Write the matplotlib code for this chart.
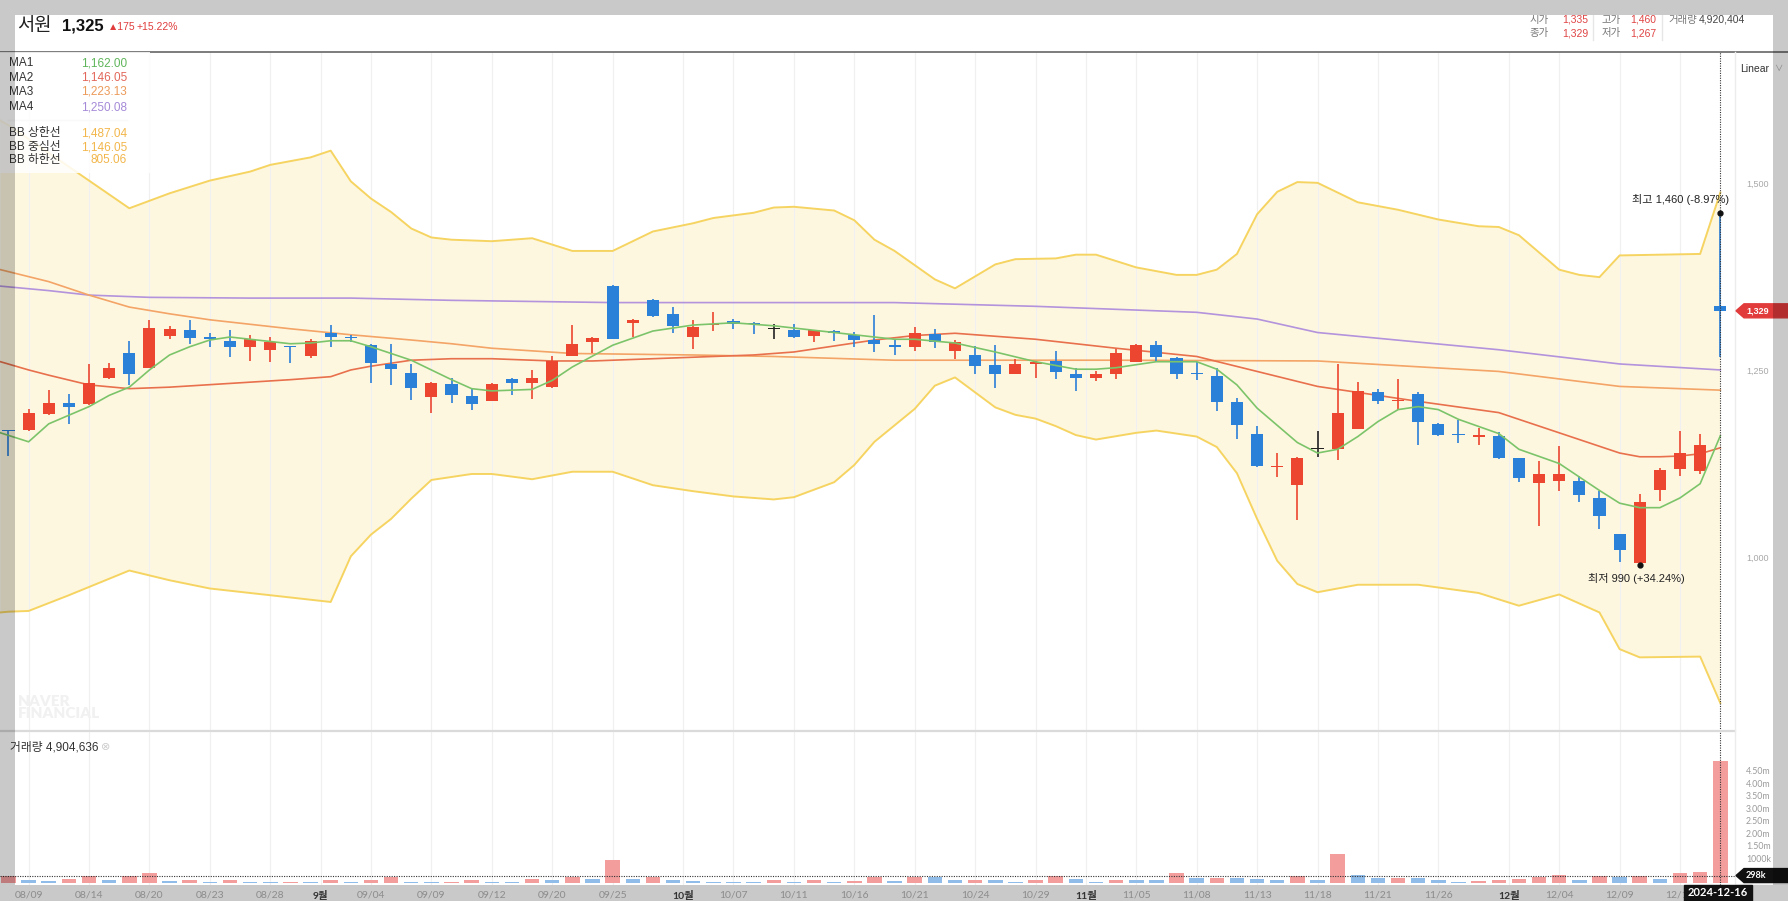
import numpy as np
import matplotlib
matplotlib.use('Agg')
import matplotlib.pyplot as plt
from matplotlib.patches import Rectangle, Polygon
from matplotlib.lines import Line2D

plt.rcParams['font.family'] = ['Liberation Sans', 'Noto Sans CJK KR', 'DejaVu Sans']

# --- daily candles, 2024-08-08 .. 2024-12-16 (trading days) ---
opens = [1170, 1170, 1191, 1206, 1204, 1239, 1273, 1253, 1296, 1303,
         1293, 1289, 1281, 1276, 1282, 1268, 1299, 1294, 1283, 1258,
         1246, 1214, 1231, 1215, 1209, 1238, 1233, 1227, 1269, 1287,
         1362, 1313, 1344, 1325, 1294, 1310, 1315, 1312, 1305, 1304,
         1295, 1302, 1297, 1290, 1283, 1280, 1298, 1275, 1270, 1256,
         1244, 1258, 1262, 1245, 1239, 1245, 1261, 1283, 1266, 1245,
         1242, 1207, 1165, 1120, 1096, 1144, 1144, 1171, 1221, 1208,
         1218, 1178, 1165, 1161, 1162, 1133, 1099, 1101, 1101, 1079,
         1031, 992, 1089, 1117, 1115, 1335]
highs = [1170, 1198, 1223, 1218, 1258, 1259, 1289, 1317, 1309, 1317,
         1299, 1303, 1297, 1294, 1282, 1291, 1310, 1297, 1284, 1285,
         1258, 1234, 1239, 1225, 1233, 1239, 1250, 1268, 1310, 1294,
         1363, 1318, 1345, 1334, 1317, 1328, 1318, 1314, 1311, 1312,
         1303, 1304, 1301, 1323, 1290, 1308, 1305, 1290, 1282, 1283,
         1264, 1262, 1275, 1252, 1248, 1278, 1284, 1289, 1267, 1261,
         1252, 1212, 1175, 1139, 1134, 1168, 1258, 1234, 1224, 1238,
         1220, 1179, 1183, 1173, 1167, 1133, 1129, 1149, 1108, 1088,
         1031, 1084, 1119, 1169, 1165, 1460]
lows = [1135, 1169, 1190, 1178, 1203, 1238, 1230, 1252, 1291, 1284,
        1280, 1267, 1262, 1261, 1259, 1266, 1281, 1288, 1233, 1230,
        1210, 1192, 1206, 1197, 1208, 1216, 1211, 1226, 1268, 1273,
        1291, 1294, 1321, 1300, 1278, 1302, 1305, 1298, 1292, 1293,
        1288, 1289, 1280, 1274, 1270, 1275, 1279, 1265, 1244, 1226,
        1244, 1239, 1238, 1222, 1235, 1238, 1260, 1261, 1238, 1236,
        1195, 1158, 1120, 1107, 1050, 1134, 1130, 1171, 1205, 1197,
        1150, 1162, 1153, 1150, 1131, 1100, 1042, 1088, 1074, 1037,
        994, 990, 1075, 1108, 1111, 1267]
closes = [1168, 1193, 1206, 1200, 1233, 1252, 1244, 1306, 1305, 1293,
          1292, 1281, 1291, 1288, 1280, 1289, 1294, 1293, 1259, 1251,
          1226, 1232, 1216, 1205, 1231, 1233, 1239, 1262, 1284, 1293,
          1292, 1317, 1322, 1309, 1308, 1312, 1312, 1311, 1305, 1294,
          1303, 1299, 1290, 1285, 1281, 1299, 1288, 1288, 1255, 1244,
          1258, 1261, 1247, 1239, 1244, 1272, 1283, 1267, 1244, 1244,
          1207, 1177, 1121, 1121, 1133, 1144, 1193, 1222, 1209, 1210,
          1180, 1163, 1163, 1163, 1133, 1106, 1111, 1111, 1083, 1055,
          1009, 1074, 1116, 1139, 1150, 1329]

# volume in thousands, 1 = red bar, 0 = blue bar
vol_k = [270, 135, 95, 175, 300, 135, 300, 390, 95, 135,
         55, 135, 55, 55, 55, 55, 110, 55, 110, 230,
         55, 55, 55, 110, 55, 27, 175, 110, 230, 170,
         905, 160, 230, 135, 95, 55, 55, 27, 110, 55,
         110, 55, 70, 230, 95, 230, 230, 135, 135, 135,
         55, 110, 285, 175, 55, 110, 110, 110, 405, 200,
         200, 200, 160, 135, 300, 135, 1175, 340, 200, 200,
         200, 135, 27, 70, 110, 175, 230, 340, 135, 300,
         230, 300, 175, 390, 430, 4904]
vol_up = [1, 0, 0, 1, 1, 0, 1, 1, 0, 1,
          0, 1, 0, 0, 1, 0, 1, 0, 1, 1,
          0, 0, 1, 1, 0, 0, 1, 0, 1, 0,
          1, 0, 1, 0, 0, 0, 0, 0, 1, 0,
          1, 0, 1, 1, 0, 1, 0, 0, 1, 0,
          0, 1, 1, 0, 0, 1, 0, 0, 1, 0,
          1, 0, 0, 0, 1, 0, 1, 0, 0, 1,
          0, 0, 0, 1, 1, 1, 1, 1, 0, 1,
          0, 1, 0, 1, 1, 1]

# moving averages (day index, value)
ma1_days = [-0.4, 1, 2, 4, 5, 6, 7, 8, 9, 10, 11, 12, 13, 14, 15, 16, 17, 18, 19, 20,
            21, 22, 23, 24, 26, 27, 28, 30, 32, 34, 36, 38, 40, 42, 44, 45, 47, 49, 51, 53,
            54, 55, 57, 59, 60, 61, 62, 63, 64, 65, 66, 67, 68, 69, 70, 71, 72, 74, 75, 77,
            78, 79, 80, 81, 82, 83, 84, 85]
ma1_vals = [1166, 1154, 1178, 1201, 1216, 1227, 1250, 1270, 1281, 1290, 1294, 1291, 1288, 1285, 1286, 1289, 1289, 1281, 1272, 1263,
            1250, 1237, 1225, 1222, 1224, 1236, 1254, 1283, 1302, 1310, 1313, 1309, 1303, 1297, 1291, 1291, 1286, 1274, 1261, 1251,
            1251, 1253, 1261, 1261, 1251, 1230, 1199, 1176, 1153, 1139, 1144, 1161, 1181, 1197, 1201, 1197, 1184, 1165, 1144, 1125,
            1107, 1089, 1072, 1066, 1066, 1079, 1098, 1162]
ma2_days = [-0.4, 1, 2, 4, 6, 8, 11, 14, 16, 17, 18, 20, 22, 24, 27, 29, 34, 37, 39, 43,
            45, 47, 51, 55, 59, 62, 65, 70, 74, 77, 79, 80, 81, 82, 83, 84, 85]
ma2_vals = [1261, 1250, 1243, 1230, 1225, 1227, 1232, 1237, 1241, 1250, 1255, 1263, 1265, 1265, 1262, 1262, 1267, 1270, 1274, 1290,
            1296, 1299, 1291, 1279, 1268, 1248, 1228, 1208, 1193, 1166, 1148, 1139, 1134, 1134, 1135, 1138, 1146]
ma3_days = [-0.4, 2, 4, 6, 8, 10, 14, 17, 20, 22, 24, 28, 34, 38, 44, 55, 65, 74, 80, 85]
ma3_vals = [1384, 1368, 1350, 1334, 1325, 1317, 1305, 1297, 1290, 1285, 1279, 1272, 1270, 1268, 1263, 1263, 1262, 1248, 1228, 1223]
ma4_days = [-0.4, 2, 4, 7, 12, 17, 22, 30, 44, 51, 59, 62, 65, 74, 80, 85]
ma4_vals = [1362, 1356, 1350, 1347, 1346, 1346, 1343, 1340, 1340, 1335, 1327, 1318, 1300, 1277, 1258, 1250]

# bollinger bands
bb_up_days = [-0.4, 0, 6, 8, 10, 12, 13, 15, 16, 17, 18, 19, 20, 21, 22, 24, 26, 28, 30, 32, 34,
              35, 37, 38, 39, 41, 42, 43, 44, 46, 47, 49, 50, 52, 53, 54, 56, 58, 59, 60, 61,
              62, 63, 64, 65, 67, 69, 71, 73, 74, 75, 77, 78, 79, 80, 84, 85]
bb_up_vals = [1583, 1577, 1466, 1486, 1503, 1515, 1524, 1534, 1543, 1502, 1479, 1461, 1439, 1427, 1424, 1422, 1426, 1409, 1409, 1435, 1446,
              1453, 1460, 1467, 1468, 1463, 1450, 1424, 1409, 1371, 1359, 1391, 1398, 1399, 1404, 1404, 1387, 1377, 1377, 1384, 1405,
              1458, 1488, 1501, 1500, 1474, 1464, 1451, 1442, 1441, 1430, 1384, 1377, 1374, 1403, 1405, 1487]
bb_lo_days = [-0.4, 0, 1, 3, 6, 8, 10, 12, 14, 16, 17, 18, 19, 20, 21, 22, 23, 24, 26, 28, 30,
              32, 34, 36, 38, 39, 41, 42, 43, 44, 45, 46, 47, 48, 49, 50, 51, 52, 53, 54, 56,
              57, 59, 60, 61, 62, 63, 64, 65, 67, 70, 73, 75, 77, 79, 80, 81, 84, 85]
bb_lo_vals = [926, 927, 928, 949, 982, 969, 958, 952, 946, 940, 1001, 1030, 1051, 1078, 1103, 1107, 1111, 1111, 1104, 1114, 1114,
              1096, 1088, 1081, 1077, 1080, 1100, 1123, 1154, 1176, 1198, 1229, 1240, 1220, 1200, 1190, 1185, 1175, 1163, 1157, 1166,
              1169, 1161, 1147, 1112, 1051, 995, 964, 953, 963, 963, 952, 935, 950, 926, 877, 866, 867, 805]

tick_days = [1, 4, 7, 10, 13, 15.5, 18, 21, 24, 27, 30, 33.5, 36, 39, 42, 45, 48, 51,
             53.5, 56, 59, 62, 65, 68, 71, 74.5, 77, 80, 83]
tick_labels = ['08/09', '08/14', '08/20', '08/23', '08/28', '9월', '09/04', '09/09', '09/12',
               '09/20', '09/25', '10월', '10/07', '10/11', '10/16', '10/21', '10/24', '10/29',
               '11월', '11/05', '11/08', '11/13', '11/18', '11/21', '11/26', '12월', '12/04',
               '12/09', '12/12']

RED, BLUE, BLACK = '#ec4630', '#2b80d8', '#222222'
W, H = 1788, 901


def box(x0, y0, x1, y1):
    return [x0 / W, 1 - y1 / H, (x1 - x0) / W, (y1 - y0) / H]


def fx(x):
    return x / W


def fy(y):
    return 1 - y / H


fig = plt.figure(figsize=(W / 100, H / 100), dpi=100)
ax = fig.add_axes(box(0, 52, 1735, 731))
axv = fig.add_axes(box(0, 731, 1735, 885))
days = np.arange(len(closes))

for a in (ax, axv):
    a.set_xlim(-0.42, 85.73)
    for s in a.spines.values():
        s.set_visible(False)
    for d in tick_days:
        a.axvline(d, color='#f0f0f0', lw=0.9, zorder=1)
    a.axvline(days[-1], color='#333333', lw=0.8, ls=(0, (1, 1.2)), zorder=6)

# price panel
ax.set_ylim(767.6, 1674.8)
ax.fill(np.r_[bb_up_days, bb_lo_days[::-1]], np.r_[bb_up_vals, bb_lo_vals[::-1]],
        color='#fef7e0', lw=0, zorder=0.5)
ax.plot(bb_up_days, bb_up_vals, color='#f6d462', lw=1.4, zorder=2)
ax.plot(bb_lo_days, bb_lo_vals, color='#f6d462', lw=1.4, zorder=2)
ax.plot(ma4_days, ma4_vals, color='#b393dc', lw=1.2, zorder=2)
ax.plot(ma3_days, ma3_vals, color='#f3a466', lw=1.2, zorder=2)
ax.plot(ma2_days, ma2_vals, color='#e8704c', lw=1.2, zorder=2)
ax.plot(ma1_days, ma1_vals, color='#7cc46a', lw=1.2, zorder=4)

for i in days:
    o, h, l, c = opens[i], highs[i], lows[i], closes[i]
    col = RED if c > o else BLUE if c < o else BLACK
    ax.vlines(i, l, h, color=col, lw=1.2, zorder=3)
    ax.bar(i, max(abs(c - o), 1.5), bottom=min(o, c), width=0.6, color=col, zorder=3)

ax.set_xticks([])
ax.yaxis.tick_right()
ax.set_yticks([1000, 1250, 1500], ['1,000', '1,250', '1,500'])
ax.tick_params(axis='y', length=0, pad=8, labelsize=6.5, labelcolor='#a8a8a8')

# max / min markers
i_hi = int(np.argmax(highs))
i_lo = int(np.argmin(lows))
hi, lo = highs[i_hi], lows[i_lo]
ax.plot([i_hi, i_lo], [hi, lo], 'o', color='#111111', ms=3.5, zorder=7)
ax.annotate(f'최고 {hi:,} ({(closes[-1] - hi) / hi * 100:+.2f}%)', (i_hi, hi),
            xytext=(9, 13), textcoords='offset pixels', ha='right', va='center',
            fontsize=8, color='#222222', zorder=7)
ax.annotate(f'최저 {lo:,} ({(closes[-1] - lo) / lo * 100:+.2f}%)', (i_lo, lo),
            xytext=(-3, -14), textcoords='offset pixels', ha='center', va='center',
            fontsize=8, color='#222222', zorder=7)

# volume panel
vol_m = np.array(vol_k) / 1000
axv.set_ylim(-0.08, 6.09)
axv.bar(days, vol_m, width=0.72, zorder=2,
        color=['#f39d9d' if u else '#8fbce9' for u in vol_up])
axv.axhline(0.298, color='#333333', lw=0.8, ls=(0, (1, 1.2)), zorder=5)
axv.yaxis.tick_right()
vt = [1.0, 1.5, 2.0, 2.5, 3.0, 3.5, 4.0, 4.5]
axv.set_yticks(vt, ['1000k'] + [f'{v:.2f}m' for v in vt[1:]])
axv.tick_params(axis='y', length=0, pad=8, labelsize=6.3, labelcolor='#9a9a9a')
axv.set_xticks(tick_days, tick_labels)
axv.tick_params(axis='x', length=0, pad=4, labelsize=7.5, labelcolor='#8c8c8c')
for t in axv.get_xticklabels():
    t.set_family(['Lato', 'Noto Sans CJK KR'])
    if t.get_text().endswith('월'):
        t.set_color('#333333')
        t.set_fontweight('bold')
for t in axv.get_yticklabels():
    t.set_family('Lato')

# bottom label band, separators
fig.patches.append(Rectangle((0, 0), 1, fy(885), transform=fig.transFigure,
                             color='#c9c9c9', zorder=-1))
fig.add_artist(Line2D([0, 1], [fy(52), fy(52)], color='#666666', lw=1.2))
fig.add_artist(Line2D([0, fx(1735)], [fy(731), fy(731)], color='#dadada', lw=1.6))
fig.add_artist(Line2D([fx(1735), fx(1735)], [fy(885), fy(52)], color='#ececec', lw=1))

# price / volume tags on the right
yp = ax.transData.transform((0, closes[-1]))[1] / H
hh = 7 / H
fig.patches.append(Polygon([(fx(1736), yp), (fx(1744), yp + hh), (1, yp + hh), (1, yp - hh),
                            (fx(1744), yp - hh)], closed=True, transform=fig.transFigure,
                           color='#e23b3b', zorder=8))
fig.text(fx(1746), yp, f'{closes[-1]:,}', color='white', fontsize=6.5, fontweight='bold',
         va='center', zorder=9)
yv = axv.transData.transform((0, 0.298))[1] / H
fig.patches.append(Polygon([(fx(1736), yv), (fx(1744), yv + hh), (1, yv + hh), (1, yv - hh),
                            (fx(1744), yv - hh)], closed=True, transform=fig.transFigure,
                           color='#111111', zorder=8))
fig.text(fx(1746), yv, '298k', color='white', fontsize=6.5, fontweight='bold', family='Lato',
         va='center', zorder=9)
fig.patches.append(Rectangle((fx(1684), 0), fx(68), fy(885), transform=fig.transFigure,
                             color='#111111', zorder=8))
fig.text(fx(1718), fy(893), '2024-12-16', color='white', fontsize=8, fontweight='bold',
         family='Lato', ha='center', va='center', zorder=9)

# header
fig.text(fx(17), fy(26), '서원', fontsize=13.5, color='#222222', va='center')
fig.text(fx(62), fy(26), f'{1325:,}', fontsize=12, fontweight='bold', color='#111111', va='center')
fig.text(fx(108), fy(27), '▲175', fontsize=7.5, color='#e03c3c', va='center')
fig.text(fx(137), fy(27), '+15.22%', fontsize=7.5, color='#e03c3c', va='center')

info = [(1530, 20, '시가', '#777777'), (1562, 20, f'{opens[-1]:,}', '#e04444'),
        (1602, 20, '고가', '#777777'), (1630, 20, f'{highs[-1]:,}', '#e04444'),
        (1668, 20, '거래량', '#777777'), (1699, 20, '4,920,404', '#444444'),
        (1530, 33, '종가', '#777777'), (1562, 33, f'{closes[-1]:,}', '#e04444'),
        (1602, 33, '저가', '#777777'), (1630, 33, f'{lows[-1]:,}', '#e04444')]
for x, y, s, c in info:
    fig.text(fx(x), fy(y), s, fontsize=7.5, color=c, va='center')
for x in (1593, 1662):
    fig.add_artist(Line2D([fx(x), fx(x)], [fy(40), fy(15)], color='#e6e6e6', lw=1))

fig.text(fx(1740), fy(69), 'Linear', fontsize=7.5, color='#333333', va='center')
fig.text(fx(1774), fy(69), '∨', fontsize=6, color='#aaaaaa', va='center')

# legend
fig.patches.append(Rectangle((0, fy(173)), fx(150), fy(52) - fy(173), transform=fig.transFigure,
                             color='white', alpha=0.85, lw=0, zorder=2))
legend = [('MA1', '1,162.00', '#5fb55a', 63), ('MA2', '1,146.05', '#e2675a', 78),
          ('MA3', '1,223.13', '#ec9a5a', 92), ('MA4', '1,250.08', '#a58ad8', 107),
          ('BB 상한선', '1,487.04', '#f2b64a', 133), ('BB 중심선', '1,146.05', '#f2b64a', 147),
          ('BB 하한선', '805.06', '#f2b64a', 160)]
for name, val, c, y in legend:
    fig.text(fx(9), fy(y), name, fontsize=8.5, color='#333333', va='center', zorder=3)
    fig.text(fx(127), fy(y), val, fontsize=8.5, color=c, va='center', ha='right', zorder=3)
fig.add_artist(Line2D([fx(8), fx(127)], [fy(120), fy(120)], color='#dddddd', lw=1))

fig.text(fx(18), fy(701), 'NAVER', fontsize=11, fontweight='heavy', family='Lato',
         color='#f1f1f1', va='center')
fig.text(fx(18), fy(714), 'FINANCIAL', fontsize=11, fontweight='heavy', family='Lato',
         color='#f1f1f1', va='center')
fig.text(fx(10), fy(747), '거래량 4,904,636', fontsize=8.5, color='#333333', va='center')
fig.text(fx(101), fy(747), '⊗', fontsize=8, color='#cccccc', va='center', family='DejaVu Sans')

# screenshot borders
fig.patches.append(Rectangle((0, fy(15)), 1, 1 - fy(15), transform=fig.transFigure,
                             color='#c9c9c9', lw=0, zorder=20))
fig.patches.append(Rectangle((0, fy(885)), fx(15), fy(15) - fy(885), transform=fig.transFigure,
                             color='black', alpha=0.21, lw=0, zorder=20))
fig.patches.append(Rectangle((fx(1773), fy(885)), fx(15), fy(15) - fy(885), transform=fig.transFigure,
                             color='black', alpha=0.21, lw=0, zorder=20))

fig.savefig('out.png', dpi=100)
